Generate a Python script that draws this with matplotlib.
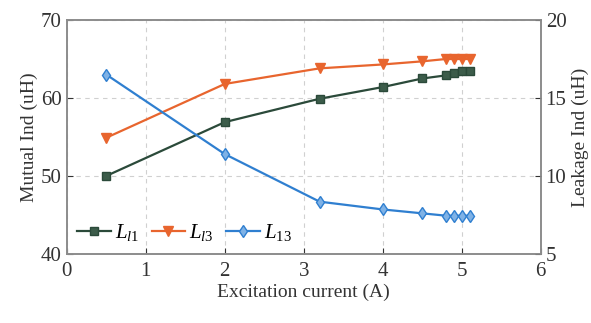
import matplotlib
matplotlib.use('Agg')
import matplotlib.pyplot as plt

plt.rcParams['font.family'] = 'Liberation Serif'
plt.rcParams['mathtext.fontset'] = 'custom'
plt.rcParams['mathtext.rm'] = 'Liberation Serif'
plt.rcParams['mathtext.it'] = 'Liberation Serif:italic'

current = [0.5, 2, 3.2, 4, 4.5, 4.8, 4.9, 5.0, 5.1]
L_l1 = [50, 56.9, 59.9, 61.4, 62.5, 62.9, 63.2, 63.4, 63.5]
L_l3 = [54.9, 61.8, 63.8, 64.3, 64.7, 65.0, 65.0, 65.0, 65.0]
L_13 = [16.5, 11.4, 8.35, 7.85, 7.6, 7.45, 7.45, 7.45, 7.45]

c_l1 = '#2b4a3a'
c_l3 = '#e8652e'
c_13 = '#2f7fd0'
frame_c = '#8c8c8c'

fig = plt.figure(figsize=(5.91, 3.23), dpi=100)
ax = fig.add_axes([0.113, 0.214, 0.802, 0.724])
ax2 = ax.twinx()

l1, = ax.plot(current, L_l1, color=c_l1, marker='s', markersize=5.5, linewidth=1.6,
              markerfacecolor='#3c5c4a', markeredgecolor=c_l1)
l3, = ax.plot(current, L_l3, color=c_l3, marker='v', markersize=6.5, linewidth=1.6)
l13, = ax2.plot(current, L_13, color=c_13, marker='d', markersize=6.5, linewidth=1.6,
                markerfacecolor='#7fb2e6', markeredgecolor=c_13)

ax.set_xlim(0, 6)
ax.set_ylim(40, 70)
ax2.set_ylim(5, 20)
ax.set_xticks(range(0, 7))
ax.set_yticks([40, 50, 60, 70])
ax2.set_yticks([5, 10, 15, 20])

ax.grid(True, linestyle=(0, (4, 4)), color='#d0d0d0', linewidth=0.8)
for a in (ax, ax2):
    a.tick_params(direction='in', labelsize=15, colors='#333333', length=4)
    for s in a.spines.values():
        s.set_color(frame_c)
        s.set_linewidth(1.2)
ax.tick_params(axis='x', pad=6)

ax.set_xlabel('Excitation current (A)', fontsize=14, color='#333333', labelpad=2)
ax.set_ylabel('Mutual Ind (uH)', fontsize=14, color='#333333', labelpad=2)
ax2.set_ylabel('Leakage Ind (uH)', fontsize=14, color='#333333', labelpad=4)

ax.legend([l1, l3, l13], ['$L_{l1}$', '$L_{l3}$', '$L_{13}$'], loc='lower left',
          ncol=3, frameon=False, fontsize=15, handlelength=1.6, handletextpad=0.2,
          columnspacing=0.6, borderaxespad=0.1)

fig.savefig('out.png', dpi=100)
